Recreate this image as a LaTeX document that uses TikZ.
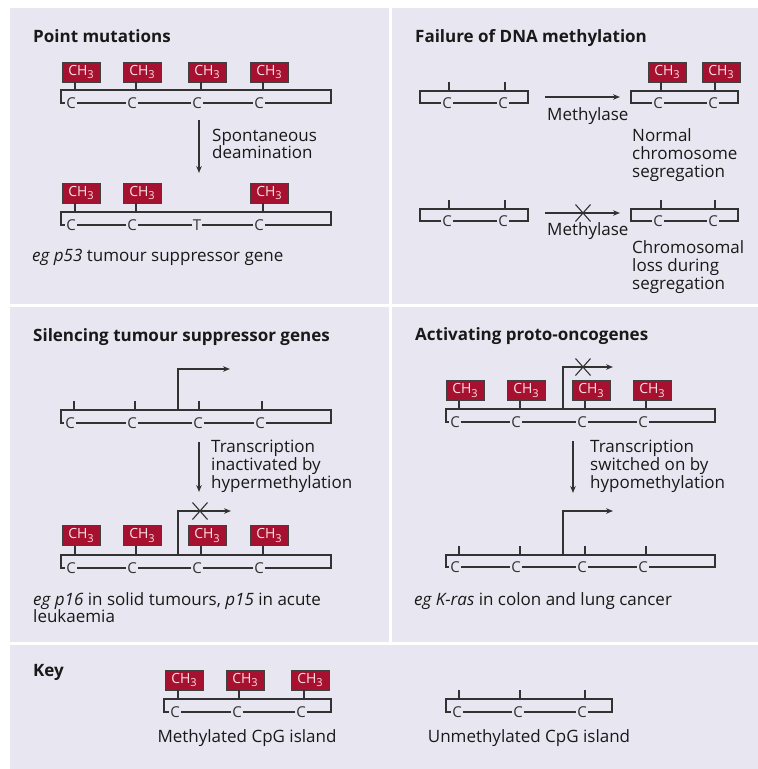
\documentclass[tikz,border=0pt]{standalone}
\usepackage{fontspec}
\setmainfont{Open Sans}
\usetikzlibrary{arrows.meta}

\definecolor{panel}{RGB}{232,230,240}
\definecolor{methylred}{RGB}{166,17,47}
\definecolor{methyltext}{RGB}{252,224,230}
\definecolor{ink}{RGB}{50,50,50}
\definecolor{txt}{RGB}{25,25,25}

\tikzset{
  strandline/.style={draw=ink, line width=1.2pt},
  ch3box/.style={fill=methylred, draw=black!75, line width=0.6pt,
    minimum width=38pt, minimum height=20pt, inner sep=0pt,
    text=methyltext, font=\fontsize{14}{14}\selectfont},
  cbase/.style={font=\fontsize{15}{15}\selectfont, fill=panel,
    inner xsep=1pt, inner ysep=0pt, text=ink},
  paneltitle/.style={anchor=base west, inner sep=0pt, text=txt,
    font=\fontsize{17}{18}\selectfont\bfseries},
  body/.style={anchor=base west, inner sep=0pt, text=txt,
    font=\fontsize{17}{18}\selectfont},
  flow/.style={draw=ink, line width=1.2pt, -{Stealth[length=7pt,width=5.5pt]}},
  cross/.style={draw=ink, line width=1.1pt},
}

% DNA strand outline: name, left, top, right, bottom
\newcommand\strandbox[5]{%
  \coordinate (#1-nw) at (#2,#3);
  \coordinate (#1-se) at (#4,#5);
  \draw[strandline] (#1-nw) rectangle (#1-se);}
% base letter sitting on the lower edge: name, x, bottom y, letter
\newcommand\baseletter[4]{\node[cbase] (#1) at (#2,#3) {#4};}
% unmethylated site: name, x, strand top
\newcommand\baresite[3]{%
  \coordinate (#1) at (#2,#3);
  \coordinate (#1-up) at (#2,#3-9);
  \draw[strandline] (#1) -- (#1-up);}
% methylated site: name, x, strand top, box centre y
\newcommand\methylsite[4]{%
  \coordinate (#1-s) at (#2,#3);
  \node[ch3box] (#1) at (#2+6,#4) {CH\raisebox{-0.28em}{\fontsize{11}{11}\selectfont 3}};
  \draw[strandline] (#1-s) -- (#1-s |- #1.south);}
% transcription start arrow: name, x, strand top, turn y, end x
\newcommand\promoter[5]{%
  \coordinate (#1-a) at (#2,#3);
  \coordinate (#1-b) at (#2,#4);
  \coordinate (#1-c) at (#5,#4);
  \draw[flow] (#1-a) -- (#1-b) -- (#1-c);}
% cross over an arrow: name, x, y
\newcommand\blocked[3]{%
  \coordinate (#1) at (#2,#3);
  \draw[cross] (#1) ++(-7.5,-8.5) -- ++(15,17);
  \draw[cross] (#1) ++(-7.5,8.5) -- ++(15,-17);}

\begin{document}
\begin{tikzpicture}[x=1pt,y=-1pt]
\useasboundingbox (0,0) rectangle (758,769);
% background panels
\fill[white] (0,0) rectangle (758,769);
\fill[panel] (10,8) rectangle (388.5,304);
\fill[panel] (391.5,8) rectangle (758,304);
\fill[panel] (10,307) rectangle (388.5,641.5);
\fill[panel] (391.5,307) rectangle (758,641.5);
\fill[panel] (10,644.5) rectangle (758,769);

%% Point mutations
\node[paneltitle] (t1) at (33,42) {Point mutations};
\strandbox{pa}{61}{90}{331}{103}
\foreach \x [count=\i] in {75,136,201,263} {\methylsite{pam\i}{\x}{90}{72}}
\foreach \x/\l [count=\i] in {71/C,132/C,197/C,259/C} {\baseletter{pab\i}{\x}{103}{\l}}
\coordinate (p1from) at (199,120);
\coordinate (p1to) at (199,173);
\draw[flow] (p1from) -- (p1to);
\node[body] (p1l1) at (212,141) {Spontaneous};
\node[body] (p1l2) at (212,158) {deamination};
\strandbox{pb}{61}{212}{331}{225}
\foreach \x [count=\i] in {75,136,263} {\methylsite{pbm\i}{\x}{212}{193}}
\foreach \x/\l [count=\i] in {71/C,132/C,197/T,259/C} {\baseletter{pbb\i}{\x}{225}{\l}}
\node[body] (p1cap) at (32,261) {\textit{eg p53} tumour suppressor gene};

%% Failure of DNA methylation
\node[paneltitle] (t2) at (415,42) {Failure of DNA methylation};
\strandbox{qa}{420}{91}{528}{103}
\foreach \x [count=\i] in {449,505} {\baresite{qat\i}{\x}{91}}
\foreach \x [count=\i] in {447,503} {\baseletter{qab\i}{\x}{103}{C}}
\coordinate (q1from) at (545,97);
\coordinate (q1to) at (620,97);
\draw[flow] (q1from) -- (q1to);
\node[body] (q1lab) at (547,120) {Methylase};
\strandbox{qb}{631}{91}{738}{103}
\foreach \x [count=\i] in {661,715} {\methylsite{qbm\i}{\x}{91}{72}}
\foreach \x [count=\i] in {658,713} {\baseletter{qbb\i}{\x}{103}{C}}
\node[body] (q1t1) at (632,141) {Normal};
\node[body] (q1t2) at (632,159) {chromosome};
\node[body] (q1t3) at (632,177) {segregation};

\strandbox{qc}{420}{209}{528}{221}
\foreach \x [count=\i] in {449,505} {\baresite{qct\i}{\x}{209}}
\foreach \x [count=\i] in {447,503} {\baseletter{qcb\i}{\x}{221}{C}}
\coordinate (q2from) at (545,213);
\coordinate (q2to) at (620,213);
\draw[flow] (q2from) -- (q2to);
\blocked{q2x}{583}{213}
\node[body] (q2lab) at (547,235) {Methylase};
\strandbox{qd}{631}{209}{738}{221}
\foreach \x [count=\i] in {661,715} {\baresite{qdt\i}{\x}{209}}
\foreach \x [count=\i] in {658,713} {\baseletter{qdb\i}{\x}{221}{C}}
\node[body] (q2t1) at (632,253) {Chromosomal};
\node[body] (q2t2) at (632,271) {loss during};
\node[body] (q2t3) at (632,289) {segregation};

%% Silencing tumour suppressor genes
\node[paneltitle] (t3) at (33,341) {Silencing tumour suppressor genes};
\strandbox{ra}{61}{410}{331}{423}
\foreach \x [count=\i] in {74,135,199,262} {\baresite{rat\i}{\x}{410}}
\foreach \x [count=\i] in {70,132,198,260} {\baseletter{rab\i}{\x}{423}{C}}
\promoter{rap}{178}{410}{369}{230}
\coordinate (r1from) at (199,442);
\coordinate (r1to) at (199,492);
\draw[flow] (r1from) -- (r1to);
\node[body] (r1l1) at (211,452) {Transcription};
\node[body] (r1l2) at (211,470) {inactivated by};
\node[body] (r1l3) at (211,488) {hypermethylation};
\strandbox{rb}{61}{555}{331}{568}
\foreach \x [count=\i] in {75,136,201,263} {\methylsite{rbm\i}{\x}{555}{535.5}}
\foreach \x [count=\i] in {71,132,197,259} {\baseletter{rbb\i}{\x}{568}{C}}
\promoter{rbp}{178}{555}{511}{231}
\blocked{rbx}{200}{511}
\node[body] (r1cap1) at (33,605) {\textit{eg p16} in solid tumours, \textit{p15} in acute};
\node[body] (r1cap2) at (33,622) {leukaemia};

%% Activating proto-oncogenes
\node[paneltitle] (t4) at (415,340) {Activating proto-oncogenes};
\strandbox{sa}{446}{409}{715}{422}
\foreach \x [count=\i] in {459,520,585,646} {\methylsite{sam\i}{\x}{409}{390.5}}
\foreach \x [count=\i] in {455,516,582,643} {\baseletter{sab\i}{\x}{422}{C}}
\promoter{sap}{563}{409}{367}{613}
\blocked{sax}{583}{367}
\coordinate (s1from) at (573,441);
\coordinate (s1to) at (573,493);
\draw[flow] (s1from) -- (s1to);
\node[body] (s1l1) at (590,452) {Transcription};
\node[body] (s1l2) at (590,470) {switched on by};
\node[body] (s1l3) at (590,488) {hypomethylation};
\strandbox{sb}{446}{555}{715}{567}
\foreach \x [count=\i] in {459,520,585,646} {\baresite{sbt\i}{\x}{555}}
\foreach \x [count=\i] in {455,516,582,643} {\baseletter{sbb\i}{\x}{567}{C}}
\promoter{sbp}{563}{555}{511}{613}
\node[body] (s1cap) at (414,605) {\textit{eg K-ras} in colon and lung cancer};

%% Key
\node[paneltitle] (t5) at (33,676) {Key};
\strandbox{ka}{164}{699}{331}{712}
\foreach \x [count=\i] in {178,239,304} {\methylsite{kam\i}{\x}{699}{680}}
\foreach \x [count=\i] in {175,237,301} {\baseletter{kab\i}{\x}{712}{C}}
\node[body, anchor=base] (kalab) at (247,742) {Methylated CpG island};
\strandbox{kb}{446}{699}{612}{712}
\foreach \x [count=\i] in {459,520,585} {\baresite{kbt\i}{\x}{699}}
\foreach \x [count=\i] in {457,518,582} {\baseletter{kbb\i}{\x}{712}{C}}
\node[body, anchor=base] (kblab) at (529,742) {Unmethylated CpG island};
\end{tikzpicture}
\end{document}
